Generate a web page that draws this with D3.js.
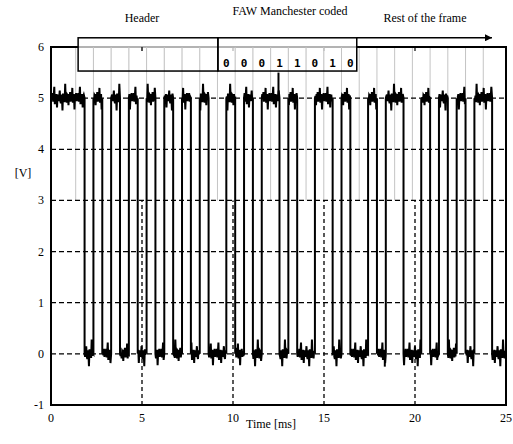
<!DOCTYPE html>
<html>
<head>
<meta charset="utf-8">
<script src="https://cdn.jsdelivr.net/npm/d3@7"></script>
<style>
  body { margin: 0; background: #fff; }
  svg { display: block; font-family: "Liberation Serif", "Times New Roman", serif; }
</style>
</head>
<body>
<svg class="scope" width="513" height="444"></svg>
<script>
// axis ticks
const xTicks = [0, 5, 10, 15, 20, 25];
const yTicks = [-1, 0, 1, 2, 3, 4, 5, 6];
const gridY = [0, 1, 2, 3, 4, 5];
const gridX = [5, 10, 15, 20];

// bit boundaries (ms), the light grey lines
const bitGrid = [1.357, 2.331, 3.304, 4.278, 5.252, 6.225, 7.199, 8.173, 9.146, 10.120,
  11.093, 12.067, 13.041, 14.014, 14.988, 15.962, 16.935, 17.909, 18.882, 19.856,
  20.830, 21.803, 22.777, 23.750];

// signal: starts high, toggles at each edge time (ms)
const startLevel = 5;
const edges = [1.845, 2.331, 2.818, 3.304, 3.791, 4.278, 4.765, 5.252, 5.738, 6.225,
  6.712, 7.199, 7.686, 8.173, 8.659, 9.633, 10.120, 10.607, 11.093, 11.580,
  12.554, 13.041, 13.527, 14.501, 15.475, 15.962, 16.448, 17.422, 17.909, 18.396,
  19.369, 20.343, 20.830, 21.316, 21.803, 22.290, 22.777, 23.264, 24.237];

// noise (V)
const noise = [0.06, -0.04, 0.1, -0.07, 0.03, 0.22, -0.12, 0.05, -0.03, 0.08, -0.18, 0.04,
  0.07, -0.06, 0.01, 0.15, -0.05, -0.1, 0.07, 0.03, -0.24, 0.09, -0.02, 0.05, -0.08, 0.28,
  -0.04, 0.02, -0.09, 0.06, 0.04, -0.14, 0.08, -0.01, 0.12, -0.07, 0.03, -0.05, 0.2, -0.09,
  0.02, 0.08, -0.22, 0.05, -0.03, 0.1, -0.06];

// two isolated glitches
const spikeT = [12.554, 18.396];
const spikeFrom = [5, 0];
const spikeTo = [5.5, -0.25];

// frame annotation
const fawBits = ['0', '0', '0', '1', '1', '0', '1', '0'];
const fawCenters = [9.633, 10.607, 11.580, 12.554, 13.527, 14.501, 15.475, 16.448];
const fawSeparators = [10.120, 11.093, 12.067, 13.041, 14.014, 14.988, 15.962];
const headerGrid = [2.331, 3.304, 4.278, 5.252, 6.225, 7.199, 8.173];
const boxEdges = [1.49, 9.17, 16.8];
const boxTop = 6.18, boxBottom = 5.53;
const arrowEnd = 24.23;

const svg = d3.select('svg.scope');
const x = d3.scaleLinear().domain([0, 25]).range([51, 506]);
const y = d3.scaleLinear().domain([-1, 6]).range([405, 47]);

// grey bit lines, from top down to 3 V
svg.append('g').selectAll('line').data(bitGrid).enter().append('line')
  .attr('x1', d => x(d)).attr('x2', d => x(d))
  .attr('y1', y(6)).attr('y2', y(3))
  .attr('stroke', '#c4c4c4').attr('stroke-width', 1);

// horizontal dashed grid
svg.append('g').selectAll('line').data(gridY).enter().append('line')
  .attr('x1', x(0)).attr('x2', x(25))
  .attr('y1', d => y(d)).attr('y2', d => y(d))
  .attr('stroke', '#000').attr('stroke-width', 1.3).attr('stroke-dasharray', '5,3');

// signal
const pts = [];
let level = startLevel, t0 = 0, ni = 0;
const bounds = edges.concat([25]);
bounds.forEach((t1, i) => {
  pts.push([t0, level]);
  for (let t = t0 + 0.03; t < t1 - 0.015; t += 0.03) {
    pts.push([t, level + noise[ni % noise.length]]);
    ni++;
  }
  pts.push([t1, level]);
  if (i < edges.length) level = 5 - level;
  t0 = t1;
});

svg.append('path')
  .datum(pts)
  .attr('fill', 'none')
  .attr('stroke', '#000')
  .attr('stroke-width', 2)
  .attr('stroke-linejoin', 'miter')
  .attr('d', d3.line().x(d => x(d[0])).y(d => y(d[1])));

svg.append('g').selectAll('line').data(spikeT).enter().append('line')
  .attr('x1', d => x(d) - 1).attr('x2', d => x(d) - 1)
  .attr('y1', (d, i) => y(spikeFrom[i])).attr('y2', (d, i) => y(spikeTo[i]))
  .attr('stroke', '#000').attr('stroke-width', 2);

// vertical dashed grid, bottom up to 3 V
svg.append('g').selectAll('line').data(gridX).enter().append('line')
  .attr('x1', d => x(d)).attr('x2', d => x(d))
  .attr('y1', y(-1)).attr('y2', y(3))
  .attr('stroke', '#000').attr('stroke-width', 1.3).attr('stroke-dasharray', '4,3');

// frame
svg.append('rect')
  .attr('x', x(0)).attr('y', y(6))
  .attr('width', x(25) - x(0)).attr('height', y(-1) - y(6))
  .attr('fill', 'none').attr('stroke', '#000').attr('stroke-width', 2);

// top ticks
svg.append('g').selectAll('line').data(gridX).enter().append('line')
  .attr('x1', d => x(d)).attr('x2', d => x(d))
  .attr('y1', y(6)).attr('y2', y(6) + 4)
  .attr('stroke', '#000').attr('stroke-width', 1.2);

// axis labels
svg.append('g').selectAll('text').data(yTicks).enter().append('text')
  .attr('x', 44).attr('y', d => y(d) + 4)
  .attr('text-anchor', 'end').attr('font-size', 12)
  .text(d => d);

svg.append('g').selectAll('text').data(xTicks).enter().append('text')
  .attr('x', d => x(d)).attr('y', 422)
  .attr('text-anchor', 'middle').attr('font-size', 12)
  .text(d => d);

svg.append('text').attr('x', 271).attr('y', 428)
  .attr('text-anchor', 'middle').attr('font-size', 12).text('Time [ms]');
svg.append('text').attr('x', 23).attr('y', 177)
  .attr('text-anchor', 'middle').attr('font-size', 12).text('[V]');

// frame annotation boxes
const ann = svg.append('g');
ann.append('rect')
  .attr('x', x(boxEdges[0])).attr('y', y(boxTop))
  .attr('width', x(boxEdges[2]) - x(boxEdges[0])).attr('height', y(boxBottom) - y(boxTop))
  .attr('fill', '#fff').attr('fill-opacity', 0.7);

ann.selectAll('line.sep').data(headerGrid.concat(fawSeparators)).enter().append('line')
  .attr('class', 'sep')
  .attr('x1', d => x(d)).attr('x2', d => x(d))
  .attr('y1', y(6)).attr('y2', y(boxBottom))
  .attr('stroke', '#c4c4c4').attr('stroke-width', 1);

ann.selectAll('line.tk').data([5]).enter().append('line')
  .attr('class', 'tk')
  .attr('x1', d => x(d)).attr('x2', d => x(d))
  .attr('y1', y(6)).attr('y2', y(6) + 4)
  .attr('stroke', '#000').attr('stroke-width', 1.2);

ann.selectAll('rect.box').data([[boxEdges[0], boxEdges[1]], [boxEdges[1], boxEdges[2]]]).enter().append('rect')
  .attr('class', 'box')
  .attr('x', d => x(d[0])).attr('y', y(boxTop))
  .attr('width', d => x(d[1]) - x(d[0])).attr('height', y(boxBottom) - y(boxTop))
  .attr('fill', 'none').attr('stroke', '#000').attr('stroke-width', 1.5);

ann.selectAll('text.bit').data(fawBits).enter().append('text')
  .attr('class', 'bit')
  .attr('x', (d, i) => x(fawCenters[i])).attr('y', 67)
  .attr('text-anchor', 'middle')
  .attr('font-family', '"DejaVu Sans Mono", monospace')
  .attr('font-weight', 'bold').attr('font-size', 11)
  .text(d => d);

// arrow for the rest of the frame
svg.append('defs').append('marker')
  .attr('id', 'arrow').attr('viewBox', '0 0 10 10')
  .attr('refX', 10).attr('refY', 5)
  .attr('markerWidth', 9).attr('markerHeight', 7)
  .attr('markerUnits', 'userSpaceOnUse')
  .attr('orient', 'auto')
  .append('path').attr('d', 'M0,0L10,5L0,10Z').attr('fill', '#000');

svg.append('line')
  .attr('x1', x(boxEdges[2])).attr('x2', x(arrowEnd))
  .attr('y1', y(boxTop)).attr('y2', y(boxTop))
  .attr('stroke', '#000').attr('stroke-width', 1.5)
  .attr('marker-end', 'url(#arrow)');

// titles
svg.append('text').attr('x', 142).attr('y', 22)
  .attr('text-anchor', 'middle').attr('font-size', 12).text('Header');
svg.append('text').attr('x', 290).attr('y', 15)
  .attr('text-anchor', 'middle').attr('font-size', 12).text('FAW Manchester coded');
svg.append('text').attr('x', 425).attr('y', 22)
  .attr('text-anchor', 'middle').attr('font-size', 12).text('Rest of the frame');
</script>
</body>
</html>
